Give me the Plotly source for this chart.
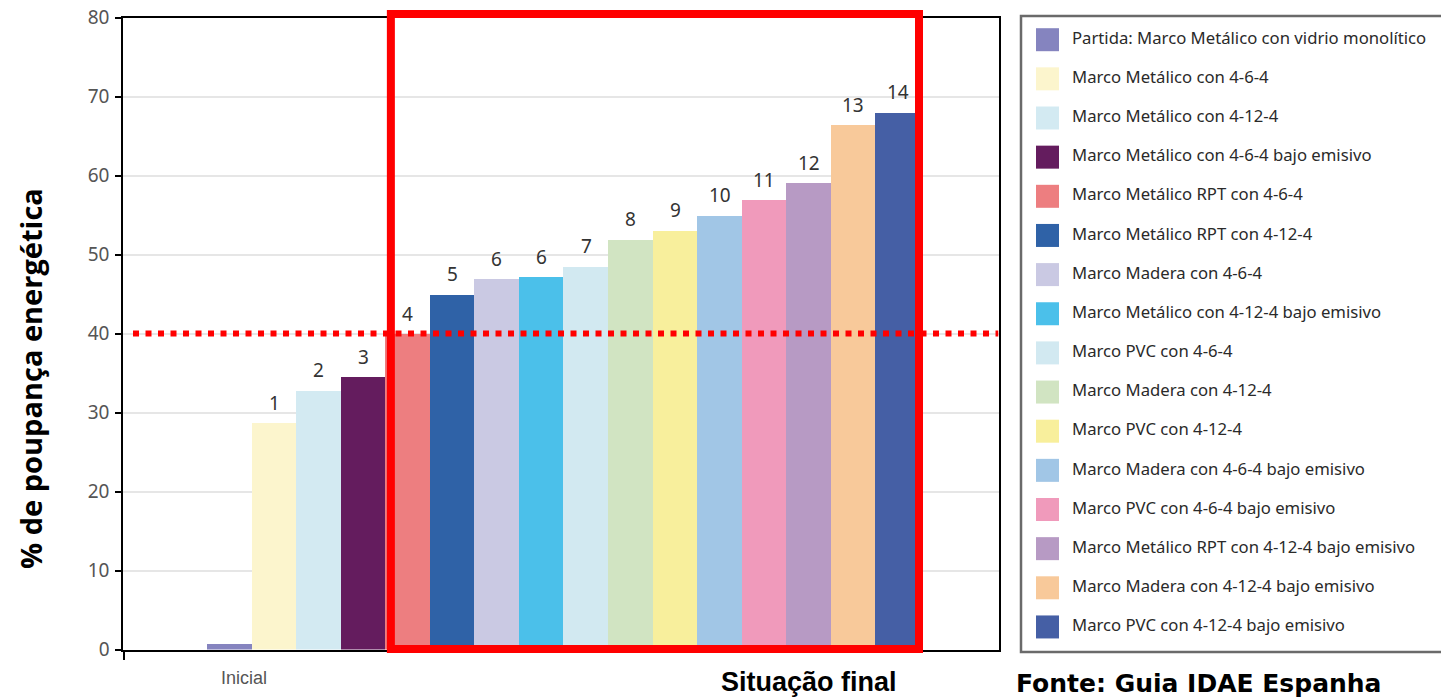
import plotly.graph_objects as go

W, H = 1441, 700

# ---------------- data ----------------
categories = list(range(16))
values = [0.8, 28.7, 32.8, 34.5, 40.0, 45.0, 46.9, 47.2, 48.5, 51.9, 53.1, 55.0, 56.9, 59.1, 66.4, 68.0]
bar_labels = ["", "1", "2", "3", "4", "5", "6", "6", "7", "8", "9", "10", "11", "12", "13", "14"]
legend_names = [
    "Partida: Marco Metálico con vidrio monolítico",
    "Marco Metálico con 4-6-4",
    "Marco Metálico con 4-12-4",
    "Marco Metálico con 4-6-4 bajo emisivo",
    "Marco Metálico RPT con 4-6-4",
    "Marco Metálico RPT con 4-12-4",
    "Marco Madera con 4-6-4",
    "Marco Metálico con 4-12-4 bajo emisivo",
    "Marco PVC con 4-6-4",
    "Marco Madera con 4-12-4",
    "Marco PVC con 4-12-4",
    "Marco Madera con 4-6-4 bajo emisivo",
    "Marco PVC con 4-6-4 bajo emisivo",
    "Marco Metálico RPT con 4-12-4 bajo emisivo",
    "Marco Madera con 4-12-4 bajo emisivo",
    "Marco PVC con 4-12-4 bajo emisivo",
]
colors = [
    "#8584bf", "#fcf5cd", "#d3eaf2", "#641c5e", "#ed7e80", "#2f62a7",
    "#cac9e3", "#4bc0ea", "#d2e9f1", "#d1e4c2", "#f8ef9c", "#a1c6e6",
    "#f09abb", "#b79ac4", "#f8c99a", "#455fa5",
]
y_ticks = [0, 10, 20, 30, 40, 50, 60, 70, 80]
threshold = 40
final_group = (3.62, 15.475)   # bar-index span framed in red

# ---------------- layout helpers (pixel -> paper) ----------------
def px(p):
    return p / W

def py(p):
    return 1 - p / H

X_RANGE = [-2.386, 17.259]
Y_RANGE = [0, 80]

fig = go.Figure()

fig.add_trace(go.Bar(
    x=categories, y=values, width=1,
    marker=dict(color=colors, line=dict(width=0)),
    showlegend=False, hoverinfo="x+y",
))

# legend drawn in its own subplot
fig.add_trace(go.Scatter(
    x=[25.5] * len(legend_names), y=list(range(len(legend_names))),
    mode="markers", marker=dict(symbol="square", size=23, color=colors, line=dict(width=0)),
    xaxis="x2", yaxis="y2", showlegend=False, hoverinfo="skip",
))
fig.add_trace(go.Scatter(
    x=[50] * len(legend_names), y=list(range(len(legend_names))),
    mode="text", text=legend_names, textposition="middle right",
    textfont=dict(family="Noto Sans, Liberation Sans, sans-serif", size=16.7, color="#2a2a2a"),
    xaxis="x2", yaxis="y2", showlegend=False, hoverinfo="skip", cliponaxis=False,
))

annotations = []
for i, (v, lab) in enumerate(zip(values, bar_labels)):
    if lab:
        annotations.append(dict(
            x=categories[i], y=v, xref="x", yref="y", text=lab, showarrow=False,
            yanchor="bottom", yshift=5,
            font=dict(family="Noto Sans, sans-serif", size=19, color="#333333"),
        ))

annotations += [
    dict(x=px(30), y=py(379), xref="paper", yref="paper", text="<b>% de poupança energética</b>",
         textangle=-90, showarrow=False, xanchor="center", yanchor="middle",
         font=dict(family="Open Sans, sans-serif", size=29, color="#000000")),
    dict(x=px(243.5), y=py(678), xref="paper", yref="paper", text="Inicial", showarrow=False,
         xanchor="center", yanchor="middle",
         font=dict(family="Liberation Sans Narrow, Liberation Sans, sans-serif", size=18, color="#555555")),
    dict(x=px(809), y=py(682), xref="paper", yref="paper", text="<b>Situação final</b>", showarrow=False,
         xanchor="center", yanchor="middle",
         font=dict(family="Liberation Sans Narrow, Liberation Sans, sans-serif", size=27, color="#000000")),
    dict(x=px(1014), y=0, xref="paper", yref="paper", text="<b>Fonte: Guia IDAE Espanha</b>",
         showarrow=False, xanchor="left", yanchor="bottom",
         font=dict(family="DejaVu Sans, sans-serif", size=25, color="#000000")),
]

shapes = [
    # threshold dotted line
    dict(type="line", xref="x", yref="y", x0=-2.168, x1=X_RANGE[1], y0=threshold, y1=threshold,
         line=dict(color="#ff0000", width=6, dash="6px,6.5px"), layer="above"),
    # red frame around final situation
    dict(type="rect", xref="x", yref="paper", x0=final_group[0], x1=final_group[1],
         y0=py(649), y1=py(14), line=dict(color="#ff0000", width=8),
         fillcolor="rgba(0,0,0,0)", layer="above"),
    # legend box
    dict(type="rect", xref="paper", yref="paper", x0=px(1021), x1=px(1470),
         y0=py(652), y1=py(16), line=dict(color="#6a6a6a", width=2.5),
         fillcolor="rgba(0,0,0,0)", layer="below"),
]

fig.update_layout(
    width=W, height=H,
    margin=dict(l=0, r=0, t=0, b=0, autoexpand=False),
    paper_bgcolor="white", plot_bgcolor="white",
    bargap=0,
    showlegend=False,
    xaxis=dict(
        domain=[px(123.3), px(998.5)], range=X_RANGE,
        showgrid=False, zeroline=False,
        showline=True, linecolor="#000000", linewidth=2, mirror=True,
        tickvals=[X_RANGE[0] + 0.01], ticktext=[""], ticks="outside", ticklen=8,
        tickwidth=2, tickcolor="#000000", automargin=False,
    ),
    yaxis=dict(
        domain=[py(649.5), py(17.5)], range=Y_RANGE,
        tickvals=y_ticks, ticks="outside", ticklen=6, tickwidth=2, tickcolor="#000000",
        tickfont=dict(family="Noto Sans, sans-serif", size=19, color="#555555"),
        ticklabelstandoff=2,
        showgrid=True, gridcolor="#e6e6e6", gridwidth=1.5,
        zeroline=False, automargin=False,
        showline=True, linecolor="#000000", linewidth=2, mirror=True,
    ),
    xaxis2=dict(domain=[px(1022), 1], range=[0, 419], visible=False, anchor="y2"),
    yaxis2=dict(domain=[py(652), py(16)], range=[(652 - 39.7) / 39.15, (16 - 39.7) / 39.15],
                visible=False, anchor="x2"),
    annotations=annotations,
    shapes=shapes,
)

fig.write_html("out.html")
